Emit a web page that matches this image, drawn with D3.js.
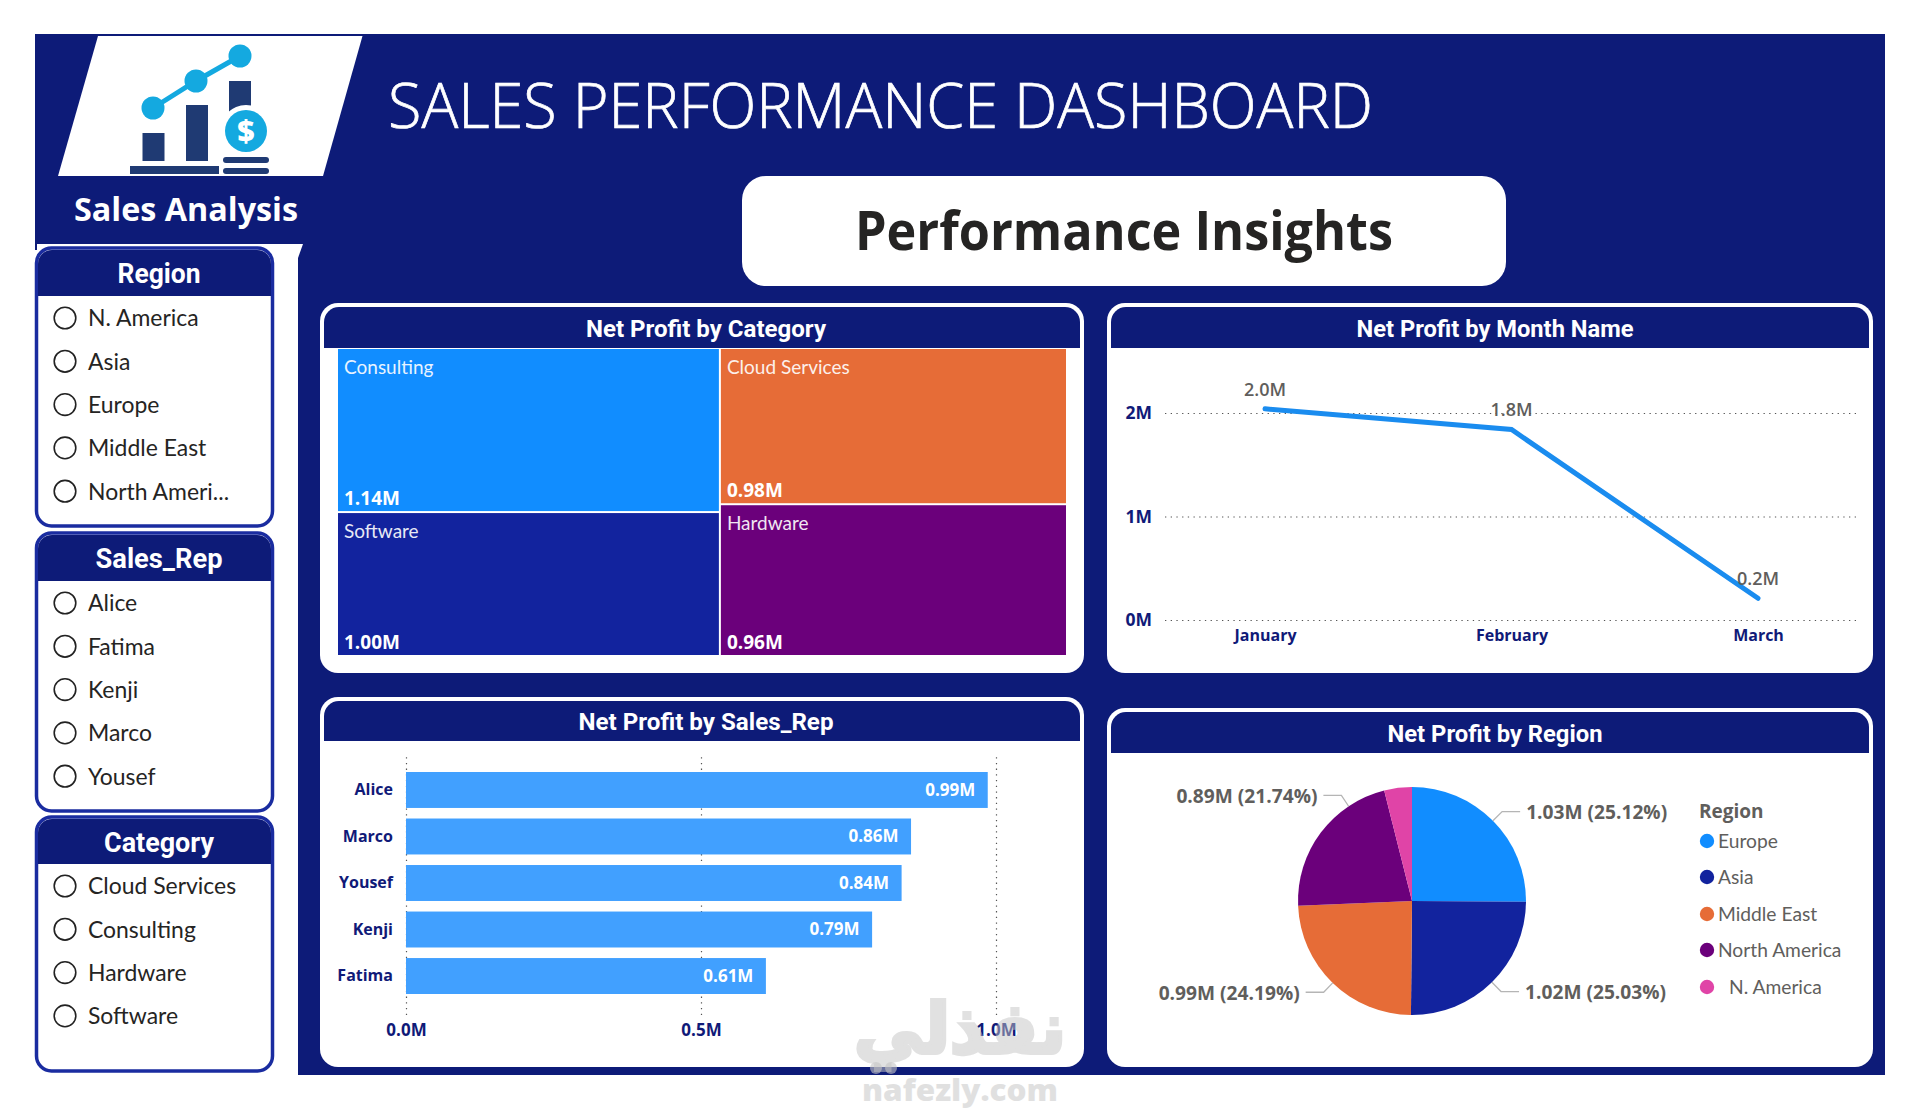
<!DOCTYPE html>
<html><head><meta charset="utf-8">
<script src="https://cdn.jsdelivr.net/npm/d3@7/dist/d3.min.js"></script>
<style>html,body{margin:0;padding:0;background:#fff;overflow:hidden}svg{display:block}</style>
</head><body><svg id="c" width="1920" height="1110"></svg>
<script>
// ---------- data ----------
const regionOptions = ["N. America","Asia","Europe","Middle East","North Ameri..."];
const repOptions = ["Alice","Fatima","Kenji","Marco","Yousef"];
const categoryOptions = ["Cloud Services","Consulting","Hardware","Software"];

const treeCols = [["Consulting","Software"],["Cloud Services","Hardware"]];
const treeNames = ["Consulting","Software","Cloud Services","Hardware"];
const treeValues = [1.14,1.00,0.984,0.956];
const treeColors = ["#118DFF","#12239E","#E66C37","#6B007B"];

const months = ["January","February","March"];
const monthValues = [2.04,1.84,0.21];
const monthTicks = [0,1,2];

const reps = ["Alice","Marco","Yousef","Kenji","Fatima"];
const repValues = [0.986,0.856,0.84,0.79,0.61];
const repTicks = [0,0.5,1];

const regions = ["Europe","Asia","Middle East","North America","N. America"];
const regionValues = [1.03,1.026,0.992,0.891,0.161];
const regionLabels = ["1.03M (25.12%)","1.02M (25.03%)","0.99M (24.19%)","0.89M (21.74%)"];
const regionColors = ["#118DFF","#12239E","#E66C37","#6B007B","#E044A7"];

// ---------- styling ----------
const NAVY="#0d1b78", BORDER="#1a2ca0", AXIS="#101a78", GRAY="#605e5c";
const LIGHT="'Lato','Open Sans',sans-serif", BOLD="'Open Sans',sans-serif", HEAD="'Roboto',sans-serif";
const svg=d3.select("#c");

function txt(g,s,x,y,o={}){
  const t=g.append("text").attr("x",x).attr("y",y).attr("dy",".35em").text(s)
    .attr("font-family",o.f||LIGHT).attr("font-size",o.s||16).attr("font-weight",o.w||400)
    .attr("fill",o.c||"#222").attr("text-anchor",o.a||"start");
  if(o.sq) o.len=t.node().getComputedTextLength()*o.sq;
  if(o.len) t.attr("textLength",o.len).attr("lengthAdjust","spacingAndGlyphs");
  if(o.o) t.attr("opacity",o.o);
  if(o.st) t.attr("stroke",o.c||"#222").attr("stroke-width",o.st);
  return t;
}
function topRound(x0,y0,x1,y1,r){
  const p=d3.path();p.moveTo(x0,y1);p.lineTo(x0,y0+r);p.arcTo(x0,y0,x0+r,y0,r);
  p.lineTo(x1-r,y0);p.arcTo(x1,y0,x1,y0+r,r);p.lineTo(x1,y1);p.closePath();return p.toString();
}

// ---------- backdrop ----------
svg.append("path").attr("fill",NAVY)
  .attr("d","M35,34 H1885 V1075 H298 V250 H35 Z");
svg.append("path").attr("fill","#fff").attr("d","M37,244 H303 L298,258 H37 Z");
svg.append("path").attr("fill","#fff").attr("d","M98,36 H362.5 L323,176 H58 Z");

// ---------- logo ----------
const logo=svg.append("g");
const lb="#1f3a73", lc="#14a9e0";
[[142.5,133,22,28],[186,105,22,56],[229,81,22,40]].forEach(b=>logo.append("rect").attr("x",b[0]).attr("y",b[1]).attr("width",b[2]).attr("height",b[3]).attr("fill",lb));
logo.append("rect").attr("x",130).attr("y",166).attr("width",89).attr("height",8).attr("fill",lb);
logo.append("rect").attr("x",223).attr("y",157).attr("width",46).attr("height",6).attr("rx",3).attr("fill",lb);
logo.append("rect").attr("x",223).attr("y",168).attr("width",46).attr("height",6).attr("rx",3).attr("fill",lb);
logo.append("polyline").attr("points","153,108 196,81 240,56").attr("fill","none").attr("stroke",lc).attr("stroke-width",5);
[[153,108],[196,81],[240,56]].forEach(c=>logo.append("circle").attr("cx",c[0]).attr("cy",c[1]).attr("r",11.5).attr("fill",lc));
logo.append("circle").attr("cx",246).attr("cy",131).attr("r",26).attr("fill","#fff");
logo.append("circle").attr("cx",246).attr("cy",131).attr("r",21).attr("fill",lc);
txt(logo,"$",246,131,{f:BOLD,s:30,w:800,c:"#fff",a:"middle"});

// ---------- titles ----------
txt(svg,"Sales Analysis",186,209,{f:BOLD,s:33,w:700,c:"#fff",a:"middle",len:224});
txt(svg,"SALES PERFORMANCE DASHBOARD",388,106,{f:"'Open Sans',sans-serif",s:62,w:300,c:"#fff",len:985,st:.7});
svg.append("rect").attr("x",742).attr("y",176).attr("width",764).attr("height",110).attr("rx",24).attr("fill","#fff");
txt(svg,"Performance Insights",1124,231,{f:BOLD,s:53,w:700,c:"#252423",a:"middle",len:538});

// ---------- slicers ----------
function slicer(title,tw,items,top,headBottom,bottom,firstY){
  const g=svg.append("g");
  g.append("rect").attr("x",36.5).attr("y",top).attr("width",236).attr("height",bottom-top).attr("rx",15).attr("fill","#fff").attr("stroke",BORDER).attr("stroke-width",3.5);
  g.append("path").attr("d",topRound(38,top+2,271,headBottom,14)).attr("fill",NAVY);
  txt(g,title,159,(top+headBottom)/2+2,{f:HEAD,s:27,w:700,c:"#fff",a:"middle",len:tw});
  items.forEach((s,i)=>{
    const y=firstY+i*43.3;
    g.append("circle").attr("cx",65).attr("cy",y).attr("r",10.8).attr("fill","#fff").attr("stroke","#222").attr("stroke-width",1.6);
    txt(g,s,88,y,{s:24,c:"#252423",sq:.955});
  });
}
slicer("Region",83,regionOptions,248,296,526,318);
slicer("Sales_Rep",127,repOptions,533,581,811,603);
slicer("Category",110,categoryOptions,817,864,1071,886);

// ---------- chart panels ----------
function panel(x0,y0,x1,y1,headBottom,title,tw,cx){
  const g=svg.append("g");
  g.append("rect").attr("x",x0).attr("y",y0).attr("width",x1-x0).attr("height",y1-y0).attr("rx",18).attr("fill","#fff");
  g.append("path").attr("d",topRound(x0+4,y0+4,x1-4,headBottom,15)).attr("fill",NAVY);
  txt(g,title,cx,(y0+4+headBottom)/2+1,{f:HEAD,s:23,w:700,c:"#fff",a:"middle",len:tw});
}
panel(320,303,1084,673,348,"Net Profit by Category",240,706);
panel(1107,303,1873,673,348,"Net Profit by Month Name",277,1495);
panel(320,697,1084,1067,741,"Net Profit by Sales_Rep",255,706);
panel(1107,708,1873,1067,753,"Net Profit by Region",215,1495);

// ---------- treemap ----------
const treeRoot=d3.hierarchy({children:treeCols.map(c=>({children:c.map(n=>({name:n,value:treeValues[treeNames.indexOf(n)]}))}))})
  .sum(d=>d.value||0);
d3.treemap().tile(d3.treemapSliceDice).size([728,306]).paddingInner(2).round(false)(treeRoot);
const tg=svg.append("g").attr("transform","translate(338,349)");
treeRoot.leaves().forEach(l=>{
  const i=treeNames.indexOf(l.data.name);
  tg.append("rect").attr("x",l.x0).attr("y",l.y0).attr("width",l.x1-l.x0).attr("height",l.y1-l.y0).attr("fill",treeColors[i]);
  txt(tg,l.data.name,l.x0+6,l.y0+18.5,{s:19,c:"#fff",o:.9});
  txt(tg,d3.format(".2f")(l.data.value)+"M",l.x0+6,l.y1-13,{f:BOLD,s:19,w:700,c:"#fff"});
});

// ---------- line ----------
const GRID="#555", DOT="1.3 4.4";
const lx=d3.scalePoint().domain(months).range([1265,1758]);
const ly=d3.scaleLinear().domain([0,2]).range([620,413]);
const lineG=svg.append("g");
const lyAxis=lineG.append("g").attr("transform","translate(1165,0)")
  .call(d3.axisLeft(ly).tickValues(monthTicks).tickFormat(d=>d+"M").tickSize(-691).tickPadding(13));
lyAxis.select(".domain").remove();
lyAxis.selectAll("line").attr("stroke",GRID).attr("stroke-width",1.2).attr("stroke-dasharray",DOT);
lyAxis.selectAll("text").attr("font-family",BOLD).attr("font-size",17.5).attr("font-weight",700).attr("fill",AXIS);
const lxAxis=lineG.append("g").attr("transform","translate(0,620)")
  .call(d3.axisBottom(lx).tickSize(0).tickPadding(10));
lxAxis.select(".domain").remove();
lxAxis.selectAll("text").attr("font-family",BOLD).attr("font-size",16).attr("font-weight",700).attr("fill",AXIS);
lineG.append("path").attr("d",d3.line().x((d,i)=>lx(months[i])).y(d=>ly(d))(monthValues))
  .attr("fill","none").attr("stroke","#1a8cef").attr("stroke-width",5).attr("stroke-linecap","round");
monthValues.forEach((v,i)=>txt(lineG,d3.format(".1f")(v)+"M",lx(months[i]),ly(v)-19.5,{f:BOLD,s:18,w:600,c:GRAY,a:"middle"}));

// ---------- bars ----------
const bx=d3.scaleLinear().domain([0,1]).range([406,996]);
const by=d3.scaleBand().domain(reps).range([772,994]).paddingInner(0.227).paddingOuter(0);
const barG=svg.append("g");
const bxAxis=barG.append("g").attr("transform","translate(0,1015)")
  .call(d3.axisBottom(bx).tickValues(repTicks).tickFormat(d=>d3.format(".1f")(d)+"M").tickSize(-262).tickPadding(9));
bxAxis.select(".domain").remove();
bxAxis.selectAll("line").attr("stroke",GRID).attr("stroke-width",1.2).attr("stroke-dasharray",DOT);
bxAxis.selectAll("text").attr("font-family",BOLD).attr("font-size",17).attr("font-weight",700).attr("fill",AXIS);
const byAxis=barG.append("g").attr("transform","translate(406,0)")
  .call(d3.axisLeft(by).tickSize(0).tickPadding(13));
byAxis.select(".domain").remove();
byAxis.selectAll("text").attr("font-family",BOLD).attr("font-size",16).attr("font-weight",700).attr("fill",AXIS);
reps.forEach((r,i)=>{
  barG.append("rect").attr("x",bx(0)).attr("y",by(r)).attr("width",bx(repValues[i])-bx(0)).attr("height",by.bandwidth()).attr("fill","#41a0ff");
  txt(barG,d3.format(".2f")(repValues[i])+"M",bx(repValues[i])-12.5,by(r)+by.bandwidth()/2,{f:BOLD,s:17,w:700,c:"#fff",a:"end"});
});

// ---------- pie ----------
const pieG=svg.append("g").attr("transform","translate(1412,901)");
const R=114;
const arcs=d3.pie().sort(null).value(d=>d)(regionValues);
const arc=d3.arc().innerRadius(0).outerRadius(R);
arcs.forEach((a,i)=>pieG.append("path").attr("d",arc(a)).attr("fill",regionColors[i]));
const leaderAngle=[(arcs[0].startAngle+arcs[0].endAngle)/2,(arcs[1].startAngle+arcs[1].endAngle)/2,(arcs[2].startAngle+arcs[2].endAngle)/2,(arcs[3].startAngle+arcs[3].endAngle)/2+0.34];
regionLabels.forEach((s,i)=>{
  const t=leaderAngle[i], sx=Math.sin(t), cy=-Math.cos(t), right=sx>0?1:-1;
  const e=[sx*(R+13),cy*(R+13)];
  pieG.append("polyline").attr("points",[[sx*R,cy*R],e,[e[0]+right*18,e[1]]].join(" "))
    .attr("fill","none").attr("stroke","#b5b5b5").attr("stroke-width",1.3);
  txt(pieG,s,e[0]+right*24,e[1]+1,{f:BOLD,s:19,w:700,c:GRAY,a:right>0?"start":"end",len:141});
});
txt(svg,"Region",1699,811,{f:BOLD,s:19,w:700,c:GRAY});
const legendY=[841,877,914,950,987];
regions.forEach((r,i)=>{
  svg.append("circle").attr("cx",1707).attr("cy",legendY[i]).attr("r",7.2).attr("fill",regionColors[i]);
  txt(svg,r,i===4?1729:1718,legendY[i],{s:19.5,c:GRAY,sq:.985});
});

// ---------- watermark ----------
const wm=svg.append("g");
txt(wm,"نفذلي",960,1028,{f:"'DejaVu Sans',sans-serif",s:70,w:700,c:"#c4c4c4",a:"middle",o:.5,len:212,st:4});
wm.append("circle").attr("cx",876).attr("cy",1068).attr("r",6).attr("fill","#c4c4c4").attr("opacity",.6);
wm.append("circle").attr("cx",891).attr("cy",1068).attr("r",6).attr("fill","#c4c4c4").attr("opacity",.6);
txt(wm,"nafezly.com",960,1090,{f:BOLD,s:30,w:800,c:"#c8c8c8",a:"middle",o:.55,len:196});
</script></body></html>
